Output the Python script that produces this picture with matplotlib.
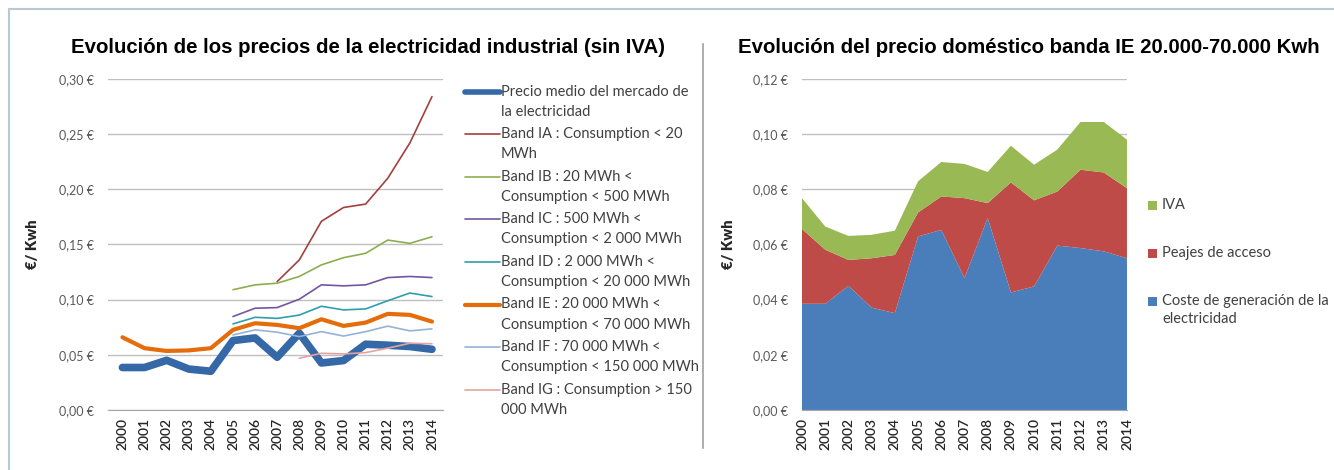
import numpy as np
import matplotlib
matplotlib.use("Agg")
import matplotlib.pyplot as plt
from matplotlib.lines import Line2D
from matplotlib.patches import Rectangle
from matplotlib.ticker import FuncFormatter, MultipleLocator

nan = np.nan

years = [str(y) for y in range(2000, 2015)]

# left chart: industrial prices (EUR/kWh, without VAT)
precio_medio = [0.0385, 0.0385, 0.045, 0.0371, 0.0351, 0.0629, 0.0653, 0.0478,
                0.0696, 0.0426, 0.0448, 0.0596, 0.0587, 0.0575, 0.0550]
band_ia = [nan] * 7 + [0.1164, 0.136, 0.171, 0.1835, 0.1866, 0.210, 0.242, 0.284]
band_ib = [nan] * 5 + [0.109, 0.1134, 0.1149, 0.121, 0.1315, 0.138, 0.142, 0.154, 0.151, 0.157]
band_ic = [nan] * 5 + [0.0847, 0.0922, 0.0928, 0.1004, 0.1134, 0.1125, 0.1134, 0.120, 0.121, 0.120]
band_id = [nan] * 5 + [0.078, 0.084, 0.083, 0.086, 0.094, 0.0907, 0.0916, 0.099, 0.106, 0.1028]
band_ie = [0.0659, 0.056, 0.0535, 0.054, 0.056, 0.0726, 0.0786, 0.0771,
           0.0741, 0.0822, 0.0762, 0.0792, 0.0871, 0.0862, 0.0801]
band_if = [nan] * 5 + [0.068, 0.0726, 0.0705, 0.0665, 0.071, 0.067, 0.071, 0.076, 0.0717, 0.0735]
band_ig = [nan] * 8 + [0.0469, 0.0514, 0.0508, 0.052, 0.056, 0.0605, 0.060]

left_labels = [
    "Precio medio del mercado de\nla electricidad",
    "Band IA : Consumption < 20\nMWh",
    "Band IB : 20 MWh <\nConsumption < 500 MWh",
    "Band IC : 500 MWh <\nConsumption < 2 000 MWh",
    "Band ID : 2 000 MWh <\nConsumption < 20 000 MWh",
    "Band IE : 20 000 MWh <\nConsumption < 70 000 MWh",
    "Band IF : 70 000 MWh <\nConsumption < 150 000 MWh",
    "Band IG : Consumption > 150\n000 MWh",
]

# right chart: domestic price band IE, stacked components
coste_generacion = [0.0385, 0.0385, 0.045, 0.0371, 0.0351, 0.0629, 0.0653, 0.0478,
                    0.0696, 0.0426, 0.0448, 0.0596, 0.0587, 0.0575, 0.0550]
peajes = [0.0271, 0.0196, 0.0094, 0.0179, 0.0211, 0.0087, 0.0121, 0.0290,
          0.0054, 0.0399, 0.0312, 0.0196, 0.0284, 0.0286, 0.0254]
iva = [0.0112, 0.0084, 0.0087, 0.0085, 0.0088, 0.0113, 0.0125, 0.0124,
       0.0113, 0.0133, 0.0129, 0.0152, 0.0173, 0.0183, 0.0176]
right_labels = ["IVA", "Peajes de acceso", "Coste de generación de la\nelectricidad"]

plt.rcParams["font.family"] = ["Lato", "DejaVu Sans"]

line_series = [precio_medio, band_ia, band_ib, band_ic, band_id, band_ie, band_if, band_ig]
line_colors = ["#3568a6", "#a3403c", "#8cae4f", "#7356a0", "#2f9eae", "#e46c0a", "#95b3d7", "#e4a3a2"]
line_widths = [5.5, 1.2, 1.2, 1.2, 1.2, 3.0, 1.2, 1.2]
area_colors = ["#4a7ebb", "#be4b48", "#98b954"]

txt = "#404040"
fig = plt.figure(figsize=(13.34, 4.70), dpi=100)

def euro(v, pos):
    return f"{v:.2f}".replace(".", ",") + " €"

def style(ax, step, ymax):
    ax.set_ylim(0, ymax)
    ax.yaxis.set_major_locator(MultipleLocator(step))
    ax.yaxis.set_major_formatter(FuncFormatter(euro))
    ax.grid(axis="y", color="#bfbfbf", linewidth=1.0)
    ax.set_axisbelow(True)
    for s in ["left", "right", "top"]:
        ax.spines[s].set_visible(False)
    ax.spines["bottom"].set_color("#a6a6a6")
    ax.tick_params(axis="y", length=0, pad=10, labelsize=9, labelcolor="#595959")
    ax.tick_params(axis="x", length=0, pad=6, labelsize=10, labelcolor="#262626", rotation=90)
    for t in ax.get_xticklabels():
        t.set_fontweight("semibold")
    ax.set_ylabel("€/ Kwh", fontsize=10.5, fontweight="heavy", color="#262626")

# ---- left chart
ax1 = fig.add_axes([0.081, 0.1277, 0.2511, 0.7043])
x = np.arange(len(years))
for vals, c, lw in zip(line_series, line_colors, line_widths):
    ax1.plot(x, vals, color=c, linewidth=lw, solid_capstyle="round", solid_joinstyle="round")
ax1.set_xticks(x)
ax1.set_xticklabels(years)
ax1.set_xlim(-0.65, 14.5)
style(ax1, 0.05, 0.30)
ax1.yaxis.set_label_coords(-0.205, 0.5)
fig.text(0.2759, 0.898, "Evolución de los precios de la electricidad industrial (sin IVA)",
         ha="center", va="center", fontsize=14.7, fontweight="bold",
         family="Liberation Sans", color="black")

# left legend, drawn by hand so the marker sits on the first line
for i, (lab, c, lw) in enumerate(zip(left_labels, line_colors, line_widths)):
    yy = 1 - (91.5 + i * 42.6) / 470
    fig.add_artist(Line2D([465 / 1334, 500 / 1334], [yy, yy], color=c,
                          linewidth=min(lw, 4), solid_capstyle="round"))
    for j, part in enumerate(lab.split("\n")):
        fig.text(501 / 1334, yy - j * 20 / 470, part, ha="left", va="center",
                 fontsize=10.5, color=txt)

# ---- right chart
ax2 = fig.add_axes([0.6012, 0.1277, 0.2436, 0.7043])
ax2.stackplot(x, coste_generacion, peajes, iva, colors=area_colors, linewidth=0)
ax2.set_xticks(x)
ax2.set_xticklabels(years)
ax2.set_xlim(0, 14)
style(ax2, 0.02, 0.12)
ax2.yaxis.set_label_coords(-0.205, 0.5)
fig.text(0.771, 0.898, "Evolución del precio doméstico banda IE 20.000-70.000 Kwh",
         ha="center", va="center", fontsize=14.7, fontweight="bold",
         family="Liberation Sans", color="black")

for i, (lab, c) in enumerate(zip(right_labels, area_colors[::-1])):
    yy = 1 - (205 + i * 48) / 470
    fig.add_artist(Rectangle((1148 / 1334, yy - 4.5 / 470), 9 / 1334, 9 / 470,
                             facecolor=c, edgecolor="none"))
    for j, part in enumerate(lab.split("\n")):
        fig.text(1162 / 1334, yy - j * 18 / 470, part, ha="left", va="center",
                 fontsize=10.5, color=txt)

# frame and divider
fig.add_artist(Line2D([9 / 1334, 1], [1 - 9 / 470, 1 - 9 / 470], color="#b9c9d3", linewidth=1.5))
fig.add_artist(Line2D([9 / 1334, 9 / 1334], [0, 1 - 9 / 470], color="#b9c9d3", linewidth=1.5))
fig.add_artist(Line2D([703 / 1334, 703 / 1334], [1 - 44 / 470, 1 - 448 / 470], color="#a0a0a0", linewidth=1.2))

fig.savefig("out.png", dpi=100)
